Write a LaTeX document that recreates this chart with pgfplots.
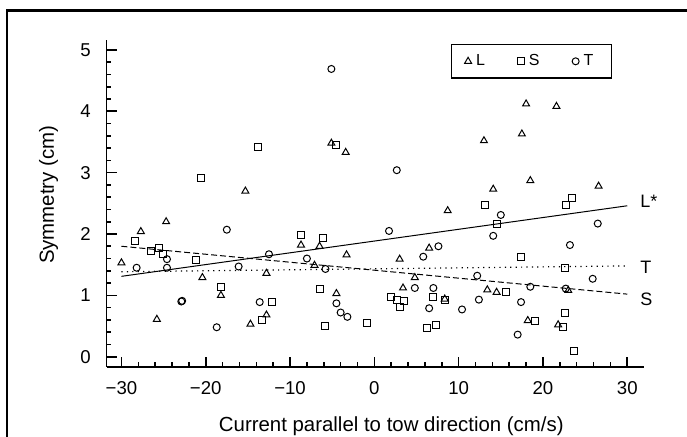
\documentclass[border=0pt]{standalone}
\usepackage{fontspec}
\setmainfont{Liberation Sans}
\usepackage{pgfplots}
\pgfplotsset{compat=1.18}
\begin{document}
\begin{tikzpicture}
\begin{axis}[
  at={(53.35pt,34.65pt)}, anchor=south west,
  scale only axis, width=268.5pt, height=163.35pt,
  xmin=-31.75, xmax=31.95, ymin=-0.163, ymax=5.162,
  axis lines=left, axis line style={-, line width=0.8pt},
  every tick/.style={black, line width=0.8pt},
  major tick length=5pt, minor tick length=2.3pt,
  tick align=inside,
  xtick={-30,-20,...,30}, xticklabels={−30,−20,−10,0,10,20,30},
  ytick={0,1,2,3,4,5},
  minor x tick num=4, minor y tick num=4,
  ticklabel style={font=\fontsize{9.3}{10}\selectfont},
  /pgf/number format/assume math mode=true,
  xticklabel style={yshift=-3.9pt},
  yticklabel style={xshift=-4.4pt},
  xlabel={Current parallel to tow direction (cm/s)},
  ylabel={Symmetry (cm)},
  label style={font=\fontsize{10.2}{12}\selectfont},
  xlabel style={at={(axis description cs:0.530,-0.199)}, anchor=base},
  ylabel style={at={(axis description cs:-0.108,0.526)}, anchor=center},
  clip=false,
  legend columns=3,
  legend style={at={(axis description cs:0.941,0.988)}, anchor=north east, draw=black, line width=0.6pt,
    font=\fontsize{8}{9}\selectfont, inner xsep=6.75pt, inner ysep=2.6pt, nodes={inner sep=2.25pt},
    /tikz/every even column/.append style={column sep=14pt}},
  legend image code/.code={\draw[#1] plot coordinates {(0pt,0pt)};},
]
\addplot[only marks, mark=triangle, mark size=2pt, line width=0.5pt, black] coordinates {
(-30.0,1.53) (-27.7,2.04) (-25.8,0.61) (-24.7,2.20) (-20.4,1.29) (-18.2,1.00)
(-15.3,2.70) (-14.7,0.53) (-12.8,1.36) (-12.8,0.68) (-8.7,1.82) (-7.1,1.49)
(-6.5,1.80) (-5.1,3.48) (-4.5,1.03) (-3.4,3.33) (-3.3,1.66) (3.0,1.59)
(3.4,1.12) (4.8,1.29) (6.5,1.77) (8.35,0.94) (8.7,2.38) (13.0,3.52)
(13.4,1.09) (14.1,2.73) (14.5,1.05) (17.5,3.63) (18.0,4.12) (18.2,0.59)
(18.5,2.87) (21.6,4.08) (21.8,0.52) (23.0,1.08) (26.6,2.78)
};
\addlegendentry{L}
\addplot[only marks, mark=square, mark size=1.75pt, line width=0.5pt, black] coordinates {
(-28.4,1.89) (-26.5,1.72) (-25.5,1.77) (-25.1,1.67) (-21.2,1.57) (-20.6,2.92)
(-18.2,1.14) (-13.8,3.42) (-13.3,0.60) (-12.1,0.89) (-8.7,1.99) (-6.5,1.10)
(-6.1,1.93) (-5.9,0.50) (-4.5,3.45) (-0.9,0.55) (2.0,0.98) (2.7,0.92)
(3.0,0.81) (3.5,0.91) (6.2,0.46) (6.9,0.98) (7.3,0.52) (8.35,0.92)
(13.1,2.48) (14.6,2.16) (15.6,1.06) (17.4,1.63) (19.0,0.58) (22.4,0.48)
(22.6,1.45) (22.6,0.72) (22.7,2.48) (23.5,2.59) (23.7,0.09)
};
\addlegendentry{S}
\addplot[only marks, mark=o, mark size=1.75pt, line width=0.5pt, black] coordinates {
(-28.2,1.45) (-24.6,1.59) (-24.6,1.45) (-22.9,0.90) (-22.8,0.91) (-18.7,0.48)
(-17.5,2.07) (-16.1,1.47) (-13.6,0.89) (-12.5,1.67) (-8.0,1.60) (-5.8,1.43)
(-5.1,4.69) (-4.5,0.87) (-4.0,0.72) (-3.2,0.65) (1.74,2.05) (2.66,3.04)
(4.8,1.12) (5.8,1.63) (6.5,0.79) (7.0,1.12) (7.6,1.80) (10.4,0.77)
(12.2,1.32) (12.4,0.93) (14.1,1.97) (15.0,2.31) (17.0,0.36) (17.4,0.89)
(18.5,1.14) (22.7,1.11) (23.2,1.82) (25.9,1.27) (26.5,2.17)
};
\addlegendentry{T}
\addplot[black, line width=0.5pt, forget plot] coordinates {(-30,1.31) (30,2.46)};
\addplot[black, line width=0.5pt, dash pattern=on 3pt off 1.5pt, forget plot] coordinates {(-30,1.80) (30,1.02)};
\addplot[black, line width=0.6pt, dash pattern=on 0.6pt off 2.1pt, forget plot] coordinates {(-30,1.385) (30,1.48)};
\node[anchor=west, inner sep=0pt, font=\fontsize{9}{10}\selectfont] at (axis cs:31.5,2.527) {L*};
\node[anchor=west, inner sep=0pt, font=\fontsize{9}{10}\selectfont] at (axis cs:31.5,1.45) {T};
\node[anchor=west, inner sep=0pt, font=\fontsize{9}{10}\selectfont] at (axis cs:31.5,0.936) {S};
\end{axis}
\draw[line width=1.15pt] (3.6pt,-2pt) -- (3.6pt,212.75pt) -- (346pt,212.75pt);
\pgfresetboundingbox
\useasboundingbox (0,0) rectangle (343.5pt,218pt);
\end{tikzpicture}
\end{document}
